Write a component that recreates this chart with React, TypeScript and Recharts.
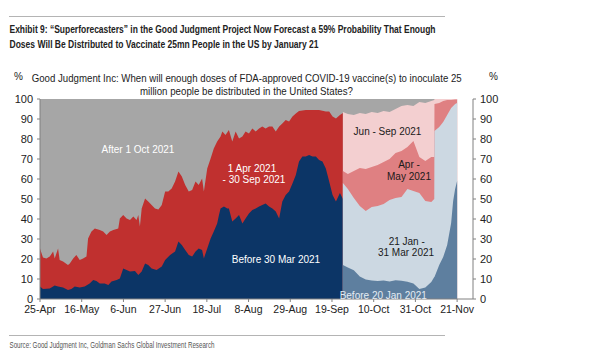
import React from 'react';
import { AreaChart, Area, XAxis, YAxis, ReferenceArea } from 'recharts';

// day offsets counted from 25-Apr
const tickDays = [0, 21, 42, 63, 84, 105, 126, 147, 168, 189, 210];
const tickLabels = ['25-Apr', '16-May', '6-Jun', '27-Jun', '18-Jul', '8-Aug', '29-Aug', '19-Sep', '10-Oct', '31-Oct', '21-Nov'];
const yTicks = [0, 10, 20, 30, 40, 50, 60, 70, 80, 90, 100];

// old question: "1 Apr - 30 Sep 2021" or earlier (cumulative %)
const sepDays = [
  0, 1.5, 3.2, 4.9, 6.6, 7.4, 9.1, 9.9, 11.6, 14.1, 15, 16.7, 18.3, 20, 21.7, 23.4, 24.2, 25.9, 27.6, 30.1,
  31.8, 33.5, 35.2, 36.9, 39.4, 40.2, 41.9, 43.6, 45.3, 47, 48.6, 49.5, 50.3, 51.2, 52.9, 54.5, 56.2, 57.9, 59.6, 61.3,
  63, 64.6, 66.3, 68, 69.7, 71.4, 73.1, 74.9, 76.6, 78.3, 79.9, 81.6, 82.5, 84.2, 85.9, 87.5, 89.2, 90.9, 91.8, 93.4,
  95.1, 96.8, 98.5, 100.2, 101.9, 103.5, 105.2, 106.9, 108.6, 110.3, 111.9, 113.6, 115.3, 117, 118.7, 120.4, 122, 123.7, 125.4, 127.1,
  128.8, 130.4, 133.8, 137.2, 140.5, 143.9, 145.6, 147.3, 149, 151, 152.5,
];
const upTo30Sep = [
  25.3, 20.7, 20.3, 21.2, 23.7, 20.3, 25.3, 19.5, 18.7, 17, 17.8, 20.3, 22, 19.5, 20.3, 21.2, 30.3, 33.7, 35.3, 34.5,
  33.7, 32, 33.7, 34.5, 35.3, 40.3, 42, 40.3, 39.5, 41.2, 39.5, 42, 36.2, 45.3, 50.3, 48.7, 47, 45.2, 44.8, 47,
  53.7, 53.7, 55.3, 58.7, 63.7, 61.2, 57, 53.7, 54.5, 58.7, 57, 60.3, 53.7, 65.3, 70.3, 75.3, 78.7, 81.2, 83.7, 82,
  84.5, 78.7, 83.7, 80.3, 81.2, 83.7, 82.8, 85.3, 83.7, 85.3, 86.2, 85.3, 86.2, 86.2, 83.7, 86.2, 87.8, 89.5, 88.7, 91.2,
  92.8, 94, 94.5, 94.5, 94.5, 93.7, 93.7, 91.2, 90.3, 92, 93,
];

// old question: "Before 30 Mar 2021" (%)
const marDays = [
  0, 1.5, 4.9, 7.4, 9.1, 11.6, 14.1, 15.8, 17.5, 20, 22.5, 25, 26.8, 28.4, 30.1, 32.6, 34.4, 36, 38.6, 40.2,
  41.9, 43.6, 45.3, 47.8, 49.5, 51.2, 52.9, 54.5, 56.2, 58.7, 61.3, 63, 65.5, 68, 69.7, 71.4, 73.1, 74.9, 76.6, 78.3,
  79.9, 81.6, 82.5, 84.2, 85.9, 87.5, 89.2, 90.1, 90.9, 92.6, 94.3, 95.1, 96.8, 98.5, 100.2, 101.9, 103.5, 105.2, 106.9, 108.6,
  110.3, 111.9, 113.6, 115.3, 117, 118.7, 120.4, 122, 123.7, 125.4, 127.1, 128.8, 130.4, 132.1, 133.8, 135.5, 137.2, 138.9, 140.5, 142.2,
  143.9, 145.6, 147.3, 149, 151, 152.5,
];
const before30Mar = [
  6.2, 5, 5.3, 6.7, 6.2, 5.7, 4.5, 5, 6.2, 5.7, 6.2, 7.8, 9.5, 9, 7.8, 7.8, 7, 8.7, 9.5, 10.3,
  15.3, 14.5, 13.7, 14, 12, 13.7, 17.8, 17, 15.3, 14.5, 16.2, 19.5, 22, 23.7, 28.7, 27, 24.5, 22, 21.2, 23.7,
  25.3, 24.5, 20.3, 25.3, 30.3, 33.7, 37.8, 42, 45.3, 46.2, 45.3, 45.3, 38.7, 40.3, 42, 37.8, 40.3, 42.8, 44.5, 45.3,
  46.2, 47, 47.8, 46.2, 45.3, 43.7, 40.3, 48.7, 52, 53.7, 57.8, 62, 68.7, 71.2, 71.2, 72, 71.2, 71.2, 69.5, 68.7,
  65.3, 58.7, 52, 48.7, 53, 50,
];

// new question buckets (cumulative %)
const newDays = [152.5, 155, 158, 161, 164, 167, 170, 173, 176, 179, 182, 185, 188, 191, 194, 197, 198.5, 198.6, 201, 203, 205, 207, 208, 209, 210];
const before20Jan = [17, 15.7, 14.4, 11.3, 9.7, 9.2, 9, 9.3, 8.7, 9.4, 9.1, 8.6, 7.8, 5, 5.8, 8.5, 11, 11, 17, 21, 27, 38, 49, 55, 59];
const upTo31Mar = [58, 55, 50.5, 46.5, 44, 46, 46.5, 47.5, 49.5, 50.5, 51, 55, 54, 53, 49, 48.5, 50, 84, 86, 88.5, 92, 95.5, 96.5, 97.5, 98];
const upToMay = [64, 62.5, 64, 65.5, 65, 66, 67, 68.5, 70, 73, 74, 76, 79, 71, 69, 71, 71, 97.5, 98, 99, 99.5, 99.5, 99.6, 99.7, 99.7];
const upToSep = [93.5, 92.5, 92, 93, 92.5, 93.5, 93, 94, 93.5, 95, 96.5, 97, 96.5, 98.5, 98, 99, 99.5, 100, 100, 100, 100, 100, 100, 100, 100];

const rows = [
  ...sepDays.map((day, i) => ({ day, red: upTo30Sep[i] })),
  ...marDays.map((day, i) => ({ day, navy: before30Mar[i] })),
  ...newDays.map((day, i) => ({
    day,
    steel: before20Jan[i],
    light: upTo31Mar[i],
    salmon: upToMay[i],
    pink: upToSep[i],
  })),
].sort((a, b) => a.day - b.day);

const font = "'Liberation Sans', Arial, sans-serif";
const tickStyle = { fill: '#222', fontSize: 11, fontFamily: font };

const areaProps = {
  type: 'linear' as const,
  stroke: 'none',
  fillOpacity: 1,
  dot: false,
  activeDot: false,
  connectNulls: true,
  isAnimationActive: false,
};

const App = () => {
  return (
    <div style={{ position: 'absolute', left: 0, top: 0, width: 590, height: 360, background: '#fff' }}>
      <div style={{ position: 'absolute', left: 0, top: 0 }}>
        <AreaChart width={590} height={360} data={rows} margin={{ top: 99, right: 77, bottom: 41, left: 4 }}>
          <ReferenceArea
            yAxisId="l"
            x1={sepDays[0]}
            x2={newDays[newDays.length - 1]}
            y1={0}
            y2={100}
            fill="#a6a6a6"
            fillOpacity={1}
            stroke="none"
            ifOverflow="visible"
          />
          <XAxis
            type="number"
            dataKey="day"
            domain={[0, 218]}
            ticks={tickDays}
            interval={0}
            tickFormatter={(d) => tickLabels[tickDays.indexOf(d)]}
            height={20}
            tickSize={3}
            tickMargin={4}
            stroke="#808080"
            tick={{ ...tickStyle, fontSize: 10.5 }}
          />
          <YAxis yAxisId="l" domain={[0, 100]} ticks={yTicks} allowDataOverflow width={36} tickSize={3} tickMargin={4} stroke="#808080" tick={tickStyle} />
          <YAxis yAxisId="r" orientation="right" domain={[0, 100]} ticks={yTicks} allowDataOverflow width={40} tickSize={3} tickMargin={4} stroke="#808080" tick={tickStyle} />

          <Area {...areaProps} yAxisId="l" dataKey="red" fill="#c0302f" />
          <Area {...areaProps} yAxisId="l" dataKey="navy" fill="#0c3566" />
          <Area {...areaProps} yAxisId="r" dataKey="pink" fill="#f3cfd0" />
          <Area {...areaProps} yAxisId="r" dataKey="salmon" fill="#df8082" />
          <Area {...areaProps} yAxisId="r" dataKey="light" fill="#ccd8e2" />
          <Area {...areaProps} yAxisId="r" dataKey="steel" fill="#5e7f9f" />
        </AreaChart>
      </div>

      <svg width={590} height={360} style={{ position: 'absolute', left: 0, top: 0, pointerEvents: 'none' }}>
        <line x1={9} x2={445} y1={16.5} y2={16.5} stroke="#b4b4b4" />
        <text transform="translate(9.5,33) scale(1,1.4)" fontFamily={font} fontWeight="bold" fontSize={8.2} fill="#222" textLength={426} lengthAdjust="spacingAndGlyphs">
          Exhibit 9: “Superforecasters” in the Good Judgment Project Now Forecast a 59% Probability That Enough
        </text>
        <text transform="translate(9.5,48) scale(1,1.4)" fontFamily={font} fontWeight="bold" fontSize={8.2} fill="#222" textLength={309} lengthAdjust="spacingAndGlyphs">
          Doses Will Be Distributed to Vaccinate 25mn People in the US by January 21
        </text>

        <text x={14} y={80} fontFamily={font} fontSize={10} fill="#222">%</text>
        <text x={489} y={80} fontFamily={font} fontSize={10} fill="#222">%</text>
        <text transform="translate(246.7,82) scale(1,1.08)" textAnchor="middle" fontFamily={font} fontSize={9.6} fill="#222" textLength={430} lengthAdjust="spacingAndGlyphs">
          Good Judgment Inc: When will enough doses of FDA-approved COVID-19 vaccine(s) to inoculate 25
        </text>
        <text transform="translate(246.5,94.5) scale(1,1.08)" textAnchor="middle" fontFamily={font} fontSize={9.6} fill="#222" textLength={213} lengthAdjust="spacingAndGlyphs">
          million people be distributed in the United States?
        </text>

        <g fontFamily={font} fontSize={10} textAnchor="middle">
          <text x={138} y={152.5} fill="#fff">After 1 Oct 2021</text>
          <text x={252} y={171.5} fill="#fff">1 Apr 2021</text>
          <text x={254} y={182.5} fill="#fff">- 30 Sep 2021</text>
          <text x={276} y={263} fill="#fff">Before 30 Mar 2021</text>
          <text x={387.5} y={135} fill="#1a1a1a">Jun - Sep 2021</text>
          <text x={409} y={167.5} fill="#1a1a1a">Apr -</text>
          <text x={409} y={180} fill="#1a1a1a">May 2021</text>
          <text x={406.7} y={245} fill="#1a1a1a">21 Jan -</text>
          <text x={406} y={255.5} fill="#1a1a1a">31 Mar 2021</text>
          <text x={383.3} y={299.3} fill="#e4ecf3">Before 20 Jan 2021</text>
        </g>

        <line x1={9} x2={445} y1={335.5} y2={335.5} stroke="#b4b4b4" />
        <text transform="translate(9.5,348) scale(1,1.3)" fontFamily={font} fontSize={6.4} fill="#555" textLength={205} lengthAdjust="spacingAndGlyphs">
          Source: Good Judgment Inc, Goldman Sachs Global Investment Research
        </text>
      </svg>
    </div>
  );
};

export default App;
